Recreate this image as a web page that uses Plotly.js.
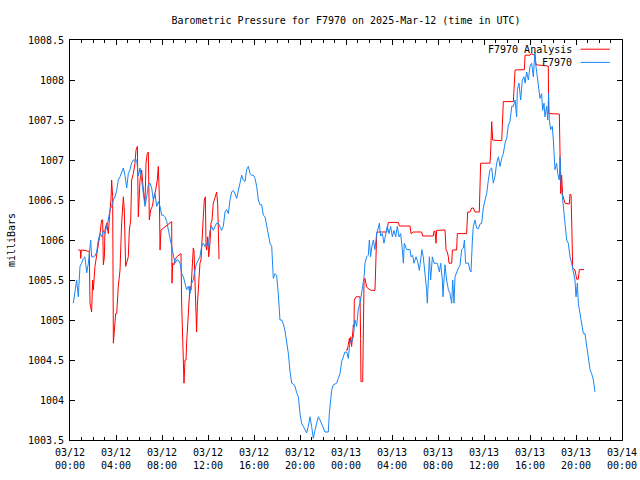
<!DOCTYPE html>
<html>
<head>
<meta charset="utf-8">
<script src="https://cdn.plot.ly/plotly-3.0.1.min.js"></script>
<style>html,body{margin:0;padding:0;background:#fff;}#chart{width:640px;height:480px;}</style>
</head>
<body>
<div id="chart"></div>
<script>
// Hours since 2025-03-12 00:00 UTC
const obsHours = [0.29,0.43,0.58,0.72,0.81,0.87,1.01,1.16,1.30,1.45,1.60,1.74,1.80,1.88,2.03,2.17,2.32,2.46,2.61,2.75,2.90,3.04,3.19,3.33,3.48,3.62,3.77,3.91,4.06,4.20,4.35,4.49,4.64,4.78,4.93,5.07,5.22,5.36,5.51,5.65,5.80,5.94,6.09,6.23,6.38,6.52,6.67,6.81,6.96,7.10,7.25,7.39,7.54,7.68,7.83,7.97,8.12,8.26,8.41,8.55,8.70,8.84,8.99,9.13,9.28,9.42,9.57,9.71,9.86,10.00,10.14,10.29,10.43,10.58,10.72,10.87,11.01,11.16,11.30,11.45,11.59,11.74,11.88,12.03,12.17,12.32,12.46,12.61,12.75,12.90,13.04,13.19,13.33,13.48,13.62,13.77,13.91,14.06,14.20,14.35,14.49,14.64,14.78,14.93,15.07,15.22,15.36,15.51,15.65,15.80,15.94,16.09,16.23,16.38,16.52,16.67,16.81,16.96,17.10,17.25,17.39,17.54,17.60,17.68,17.83,17.97,18.12,18.26,18.41,18.55,18.70,18.84,18.99,19.13,19.28,19.42,19.57,19.71,19.86,20.00,20.14,20.29,20.43,20.58,20.72,20.87,21.01,21.16,21.30,21.45,21.59,21.74,21.88,22.03,22.17,22.32,22.46,22.55,22.64,22.75,22.90,23.04,23.19,23.33,23.48,23.62,23.77,23.91,24.06,24.20,24.35,24.49,24.64,24.78,24.93,25.07,25.22,25.36,25.45,25.57,25.65,25.80,25.94,26.03,26.14,26.23,26.38,26.52,26.67,26.81,26.90,27.01,27.16,27.30,27.45,27.59,27.74,27.88,28.03,28.17,28.32,28.46,28.61,28.75,28.90,28.99,29.07,29.28,29.57,29.65,29.80,29.91,30.09,30.23,30.38,30.49,30.60,30.72,30.87,31.01,31.07,31.16,31.25,31.36,31.51,31.65,31.80,31.94,32.12,32.23,32.38,32.43,32.52,32.61,32.75,32.90,33.04,33.19,33.28,33.39,33.48,33.62,33.77,33.91,34.06,34.20,34.30,34.40,34.49,34.64,34.78,34.87,34.99,35.07,35.22,35.36,35.51,35.65,35.80,35.94,36.09,36.23,36.38,36.52,36.67,36.81,36.96,37.10,37.25,37.39,37.54,37.68,37.83,37.97,38.12,38.26,38.41,38.55,38.70,38.84,38.90,39.04,39.19,39.33,39.48,39.57,39.71,39.86,40.00,40.14,40.29,40.43,40.52,40.64,40.78,40.87,41.01,41.10,41.22,41.30,41.45,41.54,41.62,41.68,41.80,41.94,42.03,42.17,42.32,42.41,42.55,42.61,42.70,42.81,42.90,43.04,43.19,43.33,43.48,43.62,43.77,43.91,44.00,44.12,44.20,44.35,44.49,44.64,44.78,44.93,45.07,45.22,45.36,45.51,45.65];
const obsPressure = [1005.21,1005.38,1005.50,1005.29,1005.46,1005.67,1005.71,1005.77,1005.79,1005.59,1005.71,1005.94,1006.00,1005.79,1005.79,1005.80,1005.85,1006.00,1006.08,1006.04,1006.12,1006.08,1006.17,1006.25,1006.38,1006.42,1006.50,1006.54,1006.62,1006.75,1006.79,1006.85,1006.90,1006.81,1006.65,1006.83,1006.88,1006.96,1007.00,1007.00,1007.00,1006.80,1006.90,1006.75,1006.54,1006.42,1006.54,1006.69,1006.71,1006.65,1006.50,1006.58,1006.42,1006.48,1006.42,1006.31,1006.31,1006.29,1006.23,1006.12,1006.00,1005.92,1005.79,1005.71,1005.75,1005.75,1005.71,1005.58,1005.54,1005.46,1005.38,1005.42,1005.33,1005.46,1005.50,1005.63,1005.71,1005.75,1005.79,1005.92,1005.96,1005.92,1005.96,1005.92,1006.12,1006.17,1006.12,1006.17,1006.21,1006.21,1006.17,1006.12,1006.17,1006.35,1006.38,1006.33,1006.50,1006.60,1006.62,1006.58,1006.52,1006.60,1006.71,1006.81,1006.75,1006.73,1006.88,1006.92,1006.83,1006.81,1006.81,1006.77,1006.67,1006.50,1006.44,1006.44,1006.31,1006.29,1006.17,1006.04,1005.96,1005.92,1005.79,1005.52,1005.58,1005.56,1005.31,1005.00,1005.00,1004.95,1004.86,1004.72,1004.58,1004.36,1004.21,1004.20,1004.17,1004.09,1004.04,1003.83,1003.71,1003.67,1003.62,1003.59,1003.67,1003.79,1003.67,1003.52,1003.62,1003.71,1003.79,1003.75,1003.69,1003.65,1003.60,1003.60,1003.60,1003.83,1004.00,1004.12,1004.19,1004.20,1004.21,1004.27,1004.33,1004.48,1004.55,1004.60,1004.60,1004.52,1004.74,1004.72,1004.79,1005.00,1004.92,1005.14,1005.21,1005.32,1005.42,1005.54,1005.71,1005.79,1005.81,1006.00,1005.79,1005.90,1006.00,1005.88,1006.09,1006.15,1006.21,1006.05,1006.08,1005.96,1006.08,1006.17,1006.08,1006.17,1006.04,1006.12,1006.04,1006.17,1006.04,1006.08,1005.88,1005.71,1005.96,1005.88,1005.88,1005.79,1005.81,1005.71,1005.79,1005.73,1005.62,1005.73,1005.88,1005.79,1005.60,1005.38,1005.21,1005.50,1005.79,1005.50,1005.79,1005.71,1005.71,1005.71,1005.60,1005.71,1005.50,1005.29,1005.50,1005.69,1005.50,1005.38,1005.33,1005.21,1005.50,1005.21,1005.54,1005.60,1005.65,1005.68,1005.88,1005.90,1006.00,1005.71,1005.71,1005.71,1005.62,1005.60,1006.00,1006.17,1006.25,1006.15,1006.14,1006.20,1006.21,1006.40,1006.50,1006.58,1006.75,1006.88,1006.90,1006.71,1006.80,1006.96,1007.04,1006.92,1007.02,1007.08,1007.21,1007.27,1007.44,1007.48,1007.67,1007.67,1007.75,1007.54,1007.88,1007.96,1007.75,1008.00,1008.04,1007.96,1008.10,1008.00,1008.17,1008.21,1008.04,1008.35,1008.17,1008.04,1007.92,1007.77,1007.83,1007.62,1007.71,1007.54,1007.67,1007.50,1007.83,1007.50,1007.38,1007.42,1007.25,1006.88,1006.96,1006.83,1006.75,1007.04,1006.71,1006.54,1006.42,1006.17,1006.00,1005.96,1005.79,1005.71,1005.62,1005.50,1005.29,1005.46,1005.21,1005.08,1004.96,1004.83,1004.83,1004.67,1004.50,1004.38,1004.33,1004.25,1004.10];

const anaHours = [0.72,0.90,0.93,0.99,1.30,1.68,1.74,1.88,1.97,2.03,2.17,2.32,2.46,2.61,2.75,2.84,2.90,2.99,3.04,3.19,3.33,3.48,3.57,3.62,3.71,3.77,3.86,3.97,4.06,4.20,4.35,4.41,4.49,4.64,4.72,4.84,4.93,5.07,5.16,5.28,5.36,5.51,5.65,5.74,5.86,5.94,6.09,6.23,6.38,6.52,6.61,6.72,6.81,6.90,7.01,7.16,7.30,7.45,7.59,7.68,7.77,7.83,7.91,8.84,8.87,8.93,9.04,9.13,9.28,9.42,9.57,9.65,9.71,9.80,9.86,9.91,10.00,10.09,10.14,10.20,10.29,10.38,10.43,10.52,10.58,10.64,10.72,10.78,10.87,10.93,11.01,11.07,11.16,11.25,11.30,11.39,11.45,11.54,11.59,11.68,11.77,11.83,11.88,11.97,12.06,12.17,12.26,12.35,12.46,12.55,12.67,12.75,12.84,12.90,12.96,
  18.0,
  24.00,24.12,24.20,24.29,24.35,24.41,24.49,24.58,24.64,24.70,24.72,24.87,25.07,25.22,25.27,25.30,25.45,25.51,25.57,25.65,25.71,25.80,26.09,26.23,26.52,26.61,26.67,26.75,27.54,27.68,28.55,28.64,29.57,29.65,29.86,30.58,30.67,31.59,31.65,31.74,31.77,31.83,31.88,32.61,32.70,32.81,32.90,32.96,33.19,33.25,33.62,33.68,34.49,34.58,34.78,34.93,35.07,35.22,35.59,35.65,35.71,36.52,36.58,36.67,36.75,37.54,37.59,37.68,38.55,38.64,38.70,39.51,39.57,40.00,40.09,40.43,40.52,41.59,41.62,42.55,42.61,42.67,42.75,42.84,43.04,43.42,43.48,43.57,43.65,43.71,43.91,44.06,44.20,44.29,44.70];
const anaPressure = [1005.875,1005.875,1005.77,1005.875,1005.87,1005.855,1005.21,1005.10,1005.50,1005.375,1005.67,1005.79,1005.94,1006.08,1006.25,1006.25,1005.69,1005.79,1006.125,1006.21,1006.08,1006.375,1006.52,1006.75,1006.54,1004.71,1004.875,1005.08,1005.08,1005.42,1005.625,1005.96,1006.21,1006.54,1006.375,1005.67,1005.71,1005.79,1006.125,1006.25,1006.75,1006.83,1006.96,1007.125,1007.17,1006.29,1006.75,1006.875,1006.625,1006.46,1006.96,1007.08,1007.10,1006.25,1006.375,1006.42,1006.54,1006.625,1006.75,1006.92,1006.54,1005.875,1006.125,1006.23,1005.46,1005.71,1005.69,1005.75,1005.79,1005.81,1005.83,1005.83,1005.21,1004.58,1004.54,1004.21,1004.50,1004.50,1004.71,1004.875,1005.17,1005.29,1005.42,1005.375,1005.58,1005.71,1005.90,1005.875,1005.375,1004.96,1004.85,1005.17,1005.375,1005.50,1005.71,1005.75,1005.96,1006.08,1006.29,1006.50,1006.54,1005.92,1005.875,1006.04,1005.79,1005.96,1006.21,1006.25,1006.46,1006.50,1006.58,1006.60,1006.46,1006.17,1005.76,
  null,
  1004.625,1004.625,1004.69,1004.77,1004.71,1004.79,1004.67,1004.94,1004.94,1004.92,1005.25,1005.29,1005.29,1005.29,1004.77,1004.23,1004.23,1005.29,1005.50,1005.52,1005.46,1005.41,1005.375,1005.37,1005.37,1005.71,1006.08,1006.10,1006.10,1006.22,1006.22,1006.175,1006.175,1006.08,1006.10,1006.10,1006.05,1006.05,1006.11,1006.11,1005.96,1005.96,1006.12,1006.125,1005.875,1005.85,1005.79,1005.71,1005.71,1005.875,1005.875,1006.08,1006.08,1006.35,1006.35,1006.40,1006.40,1006.35,1006.35,1006.67,1006.96,1006.96,1007.10,1007.48,1007.25,1007.24,1007.50,1007.73,1007.73,1007.94,1008.125,1008.13,1008.31,1008.31,1008.33,1008.31,1008.19,1008.175,1007.58,1007.575,1007.08,1006.58,1006.81,1006.56,1006.46,1006.45,1006.575,1006.56,1006.08,1005.65,1005.625,1005.51,1005.51,1005.63,1005.63];

const tickHours = [0,4,8,12,16,20,24,28,32,36,40,44,48];
const tickLabels = ["03/12<br>00:00","03/12<br>04:00","03/12<br>08:00","03/12<br>12:00","03/12<br>16:00","03/12<br>20:00","03/13<br>00:00","03/13<br>04:00","03/13<br>08:00","03/13<br>12:00","03/13<br>16:00","03/13<br>20:00","03/14<br>00:00"];
const seriesNames = ["F7970 Analysis", "F7970"];
const seriesColors = ["#ff0000", "#1a86f5"];

const FONT = "DejaVu Sans Mono, Liberation Mono, monospace";

const traces = [
  {x: anaHours, y: anaPressure, type: 'scatter', mode: 'lines', name: seriesNames[0],
   line: {color: seriesColors[0], width: 1}, connectgaps: false},
  {x: obsHours, y: obsPressure, type: 'scatter', mode: 'lines', name: seriesNames[1],
   line: {color: seriesColors[1], width: 1}}
];

const legendY = [0.977, 0.944];
const annotations = seriesNames.map((n, i) => ({
  text: n, xref: 'paper', yref: 'paper', x: 0.913, y: legendY[i],
  xanchor: 'right', yanchor: 'middle', showarrow: false,
  font: {family: FONT, size: 10, color: '#000'}
}));
const shapes = seriesColors.map((c, i) => ({
  type: 'line', xref: 'paper', yref: 'paper', x0: 0.925, x1: 0.978,
  y0: legendY[i], y1: legendY[i], line: {color: c, width: 1}
}));

const layout = {
  width: 640, height: 480,
  margin: {l: 70, r: 18, t: 40, b: 40, pad: 0},
  paper_bgcolor: '#fff', plot_bgcolor: '#fff',
  showlegend: false,
  separators: '.',
  font: {family: FONT, size: 10, color: '#000'},
  title: {text: 'Barometric Pressure for F7970 on 2025-Mar-12 (time in UTC)',
          font: {family: FONT, size: 10, color: '#000'},
          x: 0.5, xref: 'paper', y: 0.958, yref: 'container', yanchor: 'middle'},
  xaxis: {
    range: [0, 48], tickvals: tickHours, ticktext: tickLabels,
    ticks: 'inside', ticklen: 5, tickcolor: '#000', tickwidth: 1,
    showline: true, linecolor: '#000', linewidth: 1, mirror: 'ticks',
    showgrid: false, zeroline: false, ticklabelstandoff: 3,
    minor: {dtick: 1, ticks: 'inside', ticklen: 3, tickcolor: '#000', showgrid: false},
    tickfont: {family: FONT, size: 10, color: '#000'}, fixedrange: true
  },
  yaxis: {
    range: [1003.5, 1008.5], dtick: 0.5, tick0: 1003.5, tickformat: '.1~f',
    ticks: 'inside', ticklen: 5, tickcolor: '#000', tickwidth: 1,
    showline: true, linecolor: '#000', linewidth: 1, mirror: 'ticks',
    showgrid: false, zeroline: false, ticklabelstandoff: 3,
    title: {text: 'milliBars', font: {family: FONT, size: 10, color: '#000'}, standoff: 10},
    tickfont: {family: FONT, size: 10, color: '#000'}, fixedrange: true
  },
  annotations: annotations,
  shapes: shapes
};

Plotly.newPlot('chart', traces, layout, {staticPlot: true, displayModeBar: false});
</script>
</body>
</html>
